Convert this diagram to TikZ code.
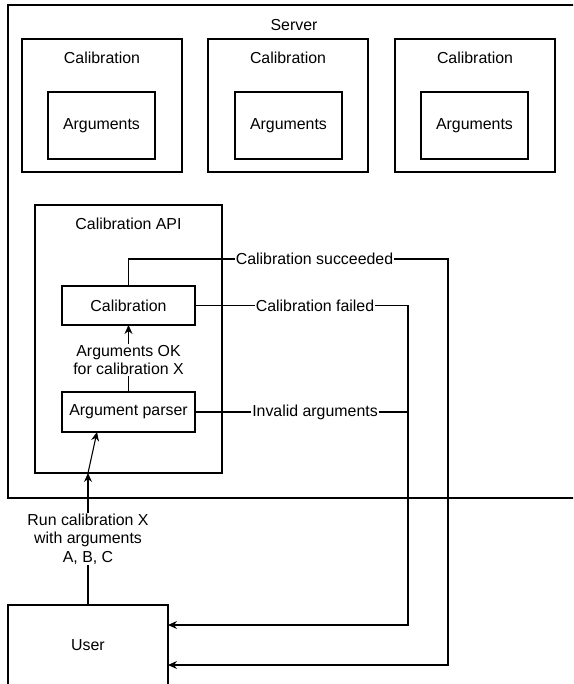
\documentclass[tikz,border=0pt]{standalone}
\usepackage{fontspec}
\setmainfont{Liberation Sans}
\usetikzlibrary{arrows.meta}
\begin{document}
\begin{tikzpicture}[x=1pt,y=-1pt,
  box/.style={draw=black, line width=1.1pt, inner sep=0pt, outer sep=0pt, anchor=north west},
  txt/.style={inner sep=0pt, font=\fontsize{15.9}{18.5}\selectfont, align=center, text=black},
  lbl/.style={fill=white, inner sep=1pt, font=\fontsize{15.9}{18.5}\selectfont, align=center, text=black},
  wire/.style={draw=black, line width=1.1pt},
  arr/.style={wire, -{Stealth[length=9pt,width=8pt,inset=3pt]}}]
\useasboundingbox (0,0) rectangle (573,684);
\clip (0,0) rectangle (573,684);
\fill[white] (0,0) rectangle (573,684);
% Server
\node[box, minimum width=572pt, minimum height=493pt] (server) at (8,5) {};
\node[txt] (serverlbl) at (294,25) {Server};
% Calibration boxes
\node[box, minimum width=160pt, minimum height=133pt] (cal1) at (22,39) {};
\node[box, minimum width=160pt, minimum height=133pt] (cal2) at (208,39) {};
\node[box, minimum width=160pt, minimum height=133pt] (cal3) at (395,39) {};
\node[txt] (cal1lbl) at (102,58) {Calibration};
\node[txt] (cal2lbl) at (288,58) {Calibration};
\node[txt] (cal3lbl) at (475,58) {Calibration};
\node[box, minimum width=107pt, minimum height=67pt] (arg1) at (48,92) {};
\node[box, minimum width=107pt, minimum height=67pt] (arg2) at (235,92) {};
\node[box, minimum width=107pt, minimum height=67pt] (arg3) at (421,92) {};
\node[txt] at (arg1.center) {Arguments};
\node[txt] at (arg2.center) {Arguments};
\node[txt] at (arg3.center) {Arguments};
% Calibration API
\node[box, minimum width=187pt, minimum height=268pt] (api) at (35,205) {};
\node[txt] (apilbl) at (128.5,224) {Calibration API};
\node[box, minimum width=133pt, minimum height=39pt] (cal) at (62,286) {};
\node[txt] at (cal.center) {Calibration};
\node[box, minimum width=133pt, minimum height=40pt] (parser) at (62,392) {};
\node[txt] at (parser.center) {Argument parser};
% User
\node[box, minimum width=160pt, minimum height=80pt] (user) at (8,605) {};
\node[txt] at (user.center) {User};
% Labels
\node[lbl] (lok) at (128.5,360) {Arguments OK\\for calibration X};
\node[lbl] (lsucc) at (314.5,259) {Calibration succeeded};
\node[lbl] (lfail) at (315,305.5) {Calibration failed};
\node[lbl] (linv) at (315,412) {Invalid arguments};
\node[lbl] (lrun) at (88,539) {Run calibration X\\with arguments\\A, B, C};
% Coordinates
\coordinate (sA) at (448,259);
\coordinate (sB) at (448,665);
\coordinate (fA) at (408,305.5);
\coordinate (fB) at (408,625);
\coordinate (apiB) at (88,473);
\coordinate (pB) at (97,432);
% Connectors
\draw[wire] (parser.north) -- (lok.south);
\draw[arr] (lok.north) -- (cal.south);
\draw[wire] (cal.north) |- (lsucc.west);
\draw[arr] (lsucc.east) -- (sA) -- (sB) -- (user.east |- sB);
\draw[wire] (cal.east) -- (lfail.west);
\draw[arr] (lfail.east) -- (fA) -- (fB) -- (user.east |- fB);
\draw[wire] (parser.east) -- (linv.west);
\draw[wire] (linv.east) -- (fA |- linv.east);
\draw[wire] (user.north) -- (lrun.south);
\draw[arr] (lrun.north) -- (apiB);
\draw[arr] (apiB) -- (pB);
\end{tikzpicture}
\end{document}
